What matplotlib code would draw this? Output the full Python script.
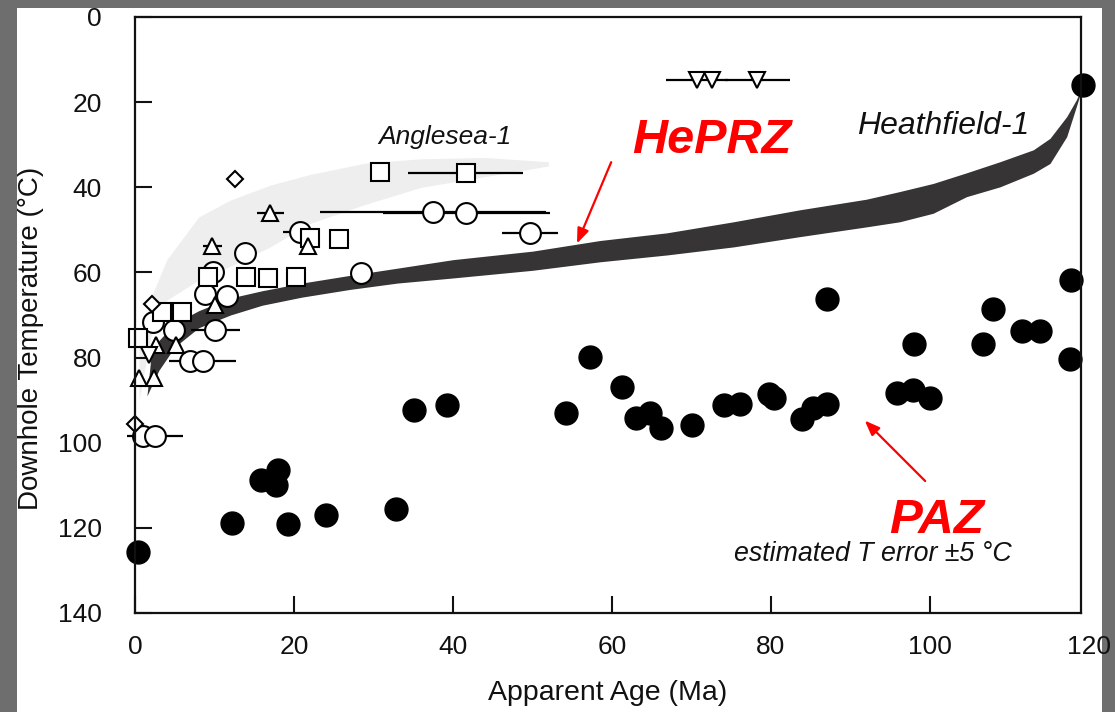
import matplotlib
matplotlib.use("Agg")
import matplotlib.pyplot as plt
from matplotlib.patches import Rectangle

plt.rcParams['font.family'] = ['Liberation Sans', 'DejaVu Sans']

# ---------------- data ----------------
x_ticks = [0, 20, 40, 60, 80, 100, 120]
y_ticks = [0, 20, 40, 60, 80, 100, 120, 140]

# Heathfield-1 AFT (filled circles)
aft_age = [0.4, 12.2, 15.9, 18.0, 17.7, 19.2, 24.0, 32.8, 35.1, 39.2, 54.2, 57.2,
           61.2, 63.0, 64.8, 66.2, 70.1, 74.1, 76.1, 79.8, 80.4, 83.9, 85.3, 87.0,
           87.0, 95.8, 97.9, 100.0, 98.0, 106.7, 107.9, 111.6, 113.9, 117.6, 117.7, 119.3]
aft_temp = [125.7, 118.9, 108.8, 106.3, 110.0, 119.1, 117.0, 115.6, 92.3, 91.1, 93.0, 79.8,
            87.0, 94.3, 93.1, 96.5, 95.8, 91.1, 90.9, 88.6, 89.6, 94.5, 91.9, 90.9,
            66.3, 88.4, 87.6, 89.6, 76.7, 76.7, 68.5, 73.7, 73.7, 80.4, 61.8, 16.0]

# Anglesea-1 (open symbols)
sq_age = [0.4, 3.4, 5.9, 9.2, 14.0, 16.7, 20.3, 22.0, 25.6, 30.8, 41.6]
sq_temp = [75.5, 69.4, 69.4, 61.0, 61.0, 61.4, 61.1, 51.8, 52.2, 36.5, 36.6]
sq_err = [0, 0, 0, 0, 0, 0, 0, 0, 0, 0, 7.2]

circ_age = [1.05, 2.5, 2.3, 4.9, 6.9, 8.5, 8.8, 9.85, 10.1, 11.6, 13.8, 20.7, 28.4, 37.5, 41.7, 49.7]
circ_temp = [98.4, 98.4, 71.6, 73.5, 80.8, 80.8, 65.1, 59.8, 73.5, 65.5, 55.4, 50.6, 60.2, 45.7, 46.0, 50.8]
circ_err = [0, 3.5, 0, 0, 0, 4.2, 0, 0, 3.05, 0, 0, 2.1, 0, 14.2, 10.5, 3.5]

tri_age = [0.55, 2.4, 2.7, 5.2, 9.7, 10.1, 17.0, 21.8]
tri_temp = [84.9, 84.9, 77.0, 77.0, 53.9, 67.6, 46.1, 53.9]
tri_err = [0, 0, 0, 0, 1.2, 0, 1.7, 0]

dia_age = [0.0, 2.2, 12.6]
dia_temp = [95.6, 67.4, 38.1]

tdn_age = [1.8, 70.7, 72.6, 78.3]
tdn_temp = [79.4, 14.8, 14.8, 14.8]
tdn_err = [0, 3.9, 0, 4.1]

# Heathfield-1 predicted band (dark)
hf_x = [1.5, 2.0, 3.0, 5.0, 8.0, 12.0, 16.0, 21.0, 27.0, 33.0, 40.0, 50.0, 58.5,
        66.9, 75.3, 83.6, 92.0, 96.2, 100.4, 104.6, 108.8, 113.0, 115.1, 117.2, 118.4, 119.0]
hf_top = [89.0, 80.0, 76.0, 72.0, 69.0, 66.0, 64.3, 62.5, 60.7, 59.0, 57.0, 55.0, 52.5,
          50.7, 48.1, 45.3, 42.8, 41.0, 39.1, 36.6, 34.0, 31.2, 28.5, 23.4, 19.5, 17.0]
hf_bot = [89.0, 87.0, 83.0, 77.5, 73.0, 70.0, 67.7, 65.8, 64.0, 62.5, 61.3, 59.5, 57.5,
          55.9, 54.0, 51.6, 49.3, 48.1, 46.1, 42.2, 39.9, 36.7, 34.4, 28.1, 21.1, 17.5]

# Anglesea-1 predicted band (light)
an_x = [0.5, 2.0, 4.0, 8.0, 12.0, 17.0, 22.0, 29.0, 36.0, 44.0, 52.0]
an_top = [78.0, 66.0, 57.0, 47.0, 43.0, 39.5, 37.0, 34.3, 33.3, 33.0, 34.0]
an_bot = [90.0, 75.0, 66.5, 61.8, 58.5, 54.0, 48.5, 44.0, 40.0, 37.5, 35.0]

# ---------------- figure ----------------
fig = plt.figure(figsize=(11.15, 7.12), dpi=100)
fig.patch.set_facecolor('#6e6e6e')
fig.patches.append(Rectangle((17 / 1115, 0), (1102 - 17) / 1115, (712 - 8) / 712,
                             transform=fig.transFigure, facecolor='white',
                             edgecolor='none', zorder=-10))

L, R, T, B = 135, 1081, 17, 613
ax = fig.add_axes([L / 1115, 1 - B / 712, (R - L) / 1115, (B - T) / 712])
ax.set_facecolor('white')
ax.set_xlim(0, 119.0)
ax.set_ylim(140, 0)

ax.fill_between(an_x, an_top, an_bot, color='#eeeeee', lw=0, zorder=1)
ax.fill_between(hf_x, hf_top, hf_bot, color='#363434', lw=0, zorder=2)

ekw = dict(fmt='none', ecolor='black', elinewidth=1.6, capsize=0, zorder=3, clip_on=False)
mkw = dict(ls='none', mfc='white', mec='black', mew=1.5, zorder=4, clip_on=False)

ax.errorbar(sq_age, sq_temp, xerr=sq_err, **ekw)
ax.errorbar(circ_age, circ_temp, xerr=circ_err, **ekw)
ax.errorbar(tri_age, tri_temp, xerr=tri_err, **ekw)
ax.errorbar(tdn_age, tdn_temp, xerr=tdn_err, **ekw)

ax.plot(circ_age, circ_temp, marker='o', ms=15, **mkw)
ax.plot(sq_age, sq_temp, marker='s', ms=13, **mkw)
ax.plot(tri_age, tri_temp, marker='^', ms=11, **mkw)
ax.plot(dia_age, dia_temp, marker='D', ms=8, **mkw)
ax.plot(tdn_age, tdn_temp, marker='v', ms=11, **mkw)

ax.plot(aft_age, aft_temp, ls='none', marker='o', ms=16.5, mfc='black', mec='black',
        zorder=5, clip_on=False)

# texts
ax.text(39.0, 28.2, 'Anglesea-1', style='italic', fontsize=19, ha='center', va='center', color='#111111')
ax.text(101.6, 25.6, 'Heathfield-1', style='italic', fontsize=23, ha='center', va='center', color='#111111')
ax.text(72.5, 29.0, 'HePRZ', style='italic', weight='bold', fontsize=35, ha='center', va='center', color='#ff0000')
ax.text(100.8, 118.3, 'PAZ', style='italic', weight='bold', fontsize=35.5, ha='center', va='center', color='#ff0000')
ax.text(92.8, 126.1, 'estimated T error \u00b15 \u00b0C', style='italic', fontsize=19.3,
        ha='center', va='center', color='#111111')

akw = dict(arrowstyle='-|>,head_length=0.9,head_width=0.35', color='#ff0000', lw=1.6,
           shrinkA=0, shrinkB=0)
ax.annotate('', xy=(55.6, 53.2), xytext=(59.9, 34.1), arrowprops=akw, zorder=6)
ax.annotate('', xy=(91.8, 94.8), xytext=(99.4, 109.0), arrowprops=akw, zorder=6)

# axes styling
for s in ax.spines.values():
    s.set_linewidth(1.6)
    s.set_color('#111111')
    s.set_zorder(7)
ax.set_xticks(x_ticks[:-1])
ax.set_yticks(y_ticks)
ax.tick_params(direction='in', length=12, width=1.5, labelsize=19, colors='#111111')
ax.tick_params(axis='y', pad=24)
ax.tick_params(axis='x', pad=16)
ax.annotate(str(x_ticks[-1]), xy=(x_ticks[-1], 0), xycoords=('data', 'axes fraction'),
            xytext=(0, -16), textcoords='offset points', ha='center', va='top',
            fontsize=19, color='#111111', annotation_clip=False)

ax.set_xlabel('Apparent Age (Ma)', fontsize=20.5, color='#111111')
ax.set_ylabel('Downhole Temperature (\u00b0C)', fontsize=20, color='#111111')
ax.xaxis.set_label_coords(0.5, -0.112)
ax.yaxis.set_label_coords(-0.096, 0.461)

fig.savefig('out.png', dpi=100, facecolor=fig.get_facecolor())
